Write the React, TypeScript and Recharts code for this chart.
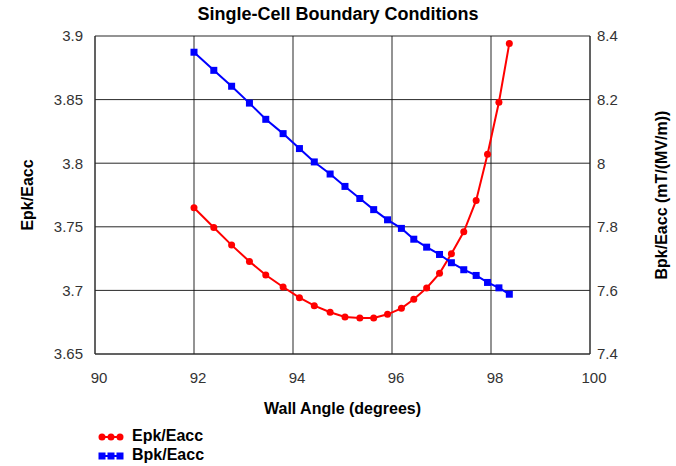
import React from 'react';
import {
  LineChart, Line, XAxis, YAxis, CartesianGrid
} from 'recharts';

// wall angle (degrees), shared by both series
const angles = [
  92.0, 92.4, 92.76, 93.12, 93.45, 93.8, 94.13, 94.43, 94.75, 95.05, 95.35, 95.63,
  95.91, 96.19, 96.44, 96.7, 96.96, 97.2, 97.45, 97.7, 97.93, 98.16, 98.37,
];
const epk = [
  3.765, 3.7495, 3.7356, 3.7228, 3.7121, 3.7027, 3.6943, 3.688, 3.6828, 3.6791, 3.6783, 3.6783,
  3.6812, 3.6859, 3.693, 3.7019, 3.7134, 3.7288, 3.7461, 3.7707, 3.8071, 3.8479, 3.8942,
];
const bpk = [
  8.349, 8.292, 8.242, 8.189, 8.138, 8.093, 8.046, 8.004, 7.966, 7.927, 7.889, 7.854,
  7.822, 7.795, 7.761, 7.736, 7.713, 7.687, 7.665, 7.647, 7.625, 7.608, 7.588,
];
const xTicks = [90, 92, 94, 96, 98, 100];
const leftTicks = [3.65, 3.7, 3.75, 3.8, 3.85, 3.9];
const rightTicks = [7.4, 7.6, 7.8, 8, 8.2, 8.4];

const data = angles.map((a, i) => ({ angle: a, epk: epk[i], bpk: bpk[i] }));

const FONT = '"Liberation Sans", Arial, sans-serif';

const SquareDot = (props: any) => {
  const { cx, cy, index } = props;
  if (cx == null || cy == null) return <g key={index} />;
  return <rect key={index} x={cx - 3.5} y={cy - 3.5} width={7} height={7} fill="#0000ff" />;
};

const LegendMark = ({ color, square }: { color: string; square?: boolean }) => (
  <svg width={26} height={10} style={{ verticalAlign: 'middle' }}>
    <line x1={1} y1={5} x2={25} y2={5} stroke={color} strokeWidth={2} />
    {[4, 13, 22].map((x) =>
      square ? (
        <rect key={x} x={x - 3.5} y={1.5} width={7} height={7} fill={color} />
      ) : (
        <circle key={x} cx={x} cy={5} r={3.5} fill={color} />
      )
    )}
  </svg>
);

export default function App() {
  const tickStyle = { fontFamily: FONT, fontSize: 15, fill: '#333' };
  return (
    <div style={{ position: 'absolute', left: 0, top: 0, width: 676, height: 466, background: '#fff' }}>
      <div
        style={{
          position: 'absolute', left: 0, width: 676, top: 4, textAlign: 'center',
          fontFamily: FONT, fontWeight: 'bold', fontSize: 18, color: '#000',
        }}
      >
        Single-Cell Boundary Conditions
      </div>
      <LineChart
        width={676}
        height={466}
        data={data}
        margin={{ top: 36, right: 0, bottom: 50, left: 0 }}
      >
        <CartesianGrid stroke="#111" strokeOpacity={0.9} yAxisId="left" />
        <XAxis
          dataKey="angle"
          type="number"
          domain={[90, 100]}
          ticks={xTicks}
          allowDataOverflow
          tickLine={false}
          axisLine={{ stroke: '#333' }}
          tick={tickStyle}
          tickMargin={12}
          dx={4}
          height={62}
          label={{
            value: 'Wall Angle (degrees)', position: 'insideBottom', offset: 2,
            style: { fontFamily: FONT, fontWeight: 'bold', fontSize: 16, fill: '#000' },
          }}
        />
        <YAxis
          yAxisId="left"
          domain={[3.65, 3.9]}
          ticks={leftTicks}
          allowDataOverflow
          width={95}
          tickLine={false}
          axisLine={{ stroke: '#333' }}
          tick={tickStyle}
          tickMargin={6}
          label={{
            value: 'Epk/Eacc', angle: -90, position: 'insideLeft', offset: 27,
            style: { textAnchor: 'middle', fontFamily: FONT, fontWeight: 'bold', fontSize: 16, fill: '#000' },
          }}
        />
        <YAxis
          yAxisId="right"
          orientation="right"
          domain={[7.4, 8.4]}
          ticks={rightTicks}
          allowDataOverflow
          width={86}
          tickLine={false}
          axisLine={{ stroke: '#333' }}
          tick={tickStyle}
          tickMargin={1}
          label={{
            value: 'Bpk/Eacc (mT/(MV/m))', angle: -90, position: 'insideRight', offset: 15,
            style: { textAnchor: 'middle', fontFamily: FONT, fontWeight: 'bold', fontSize: 16, fill: '#000' },
          }}
        />
        <Line
          yAxisId="left"
          dataKey="epk"
          name="Epk/Eacc"
          stroke="#ff0000"
          strokeWidth={2}
          dot={{ r: 3.5, fill: '#ff0000', stroke: '#ff0000', strokeWidth: 0 }}
          isAnimationActive={false}
        />
        <Line
          yAxisId="right"
          dataKey="bpk"
          name="Bpk/Eacc"
          stroke="#0000ff"
          strokeWidth={2}
          dot={SquareDot}
          isAnimationActive={false}
        />
      </LineChart>
      <div
        style={{
          position: 'absolute', left: 98, top: 426, fontFamily: FONT, fontWeight: 'bold',
          fontSize: 16, color: '#000', lineHeight: '19px',
        }}
      >
        <div><LegendMark color="#ff0000" /><span style={{ marginLeft: 8 }}>Epk/Eacc</span></div>
        <div><LegendMark color="#0000ff" square /><span style={{ marginLeft: 8 }}>Bpk/Eacc</span></div>
      </div>
    </div>
  );
}
